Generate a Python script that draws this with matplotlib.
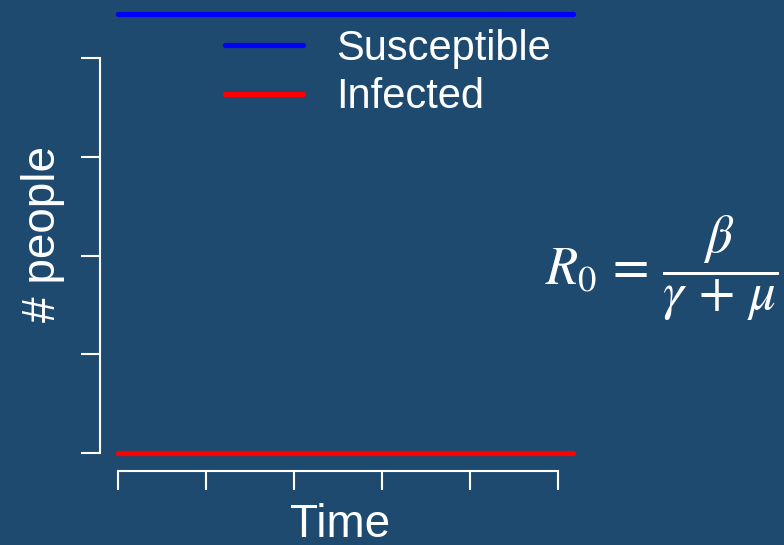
import matplotlib
matplotlib.use("Agg")
import matplotlib.pyplot as plt
import numpy as np

# Model state at time zero, held flat over the simulated horizon
time = [0, 51.7]
susceptible = [889, 889]
infected = [0, 0]
x_ticks = [0, 10, 20, 30, 40, 50]
y_ticks = [0, 200, 400, 600, 800]
series_labels = ["Susceptible", "Infected"]
series_colors = ["#0000FF", "#FF0000"]

bg = "#1E4A70"
W, H = 784, 545
fig = plt.figure(figsize=(W / 100, H / 100), dpi=100, facecolor=bg)
plt.rcParams["font.family"] = ["Liberation Sans", "DejaVu Sans"]
plt.rcParams["mathtext.fontset"] = "stix"

# plot region (R-style, 4% padding around the data range)
x0, x1 = min(time), max(time)
y0, y1 = 0, max(susceptible)
xpad, ypad = 0.04 * (x1 - x0), 0.04 * (y1 - y0)
px_per_x = 8.8
px_per_y = 0.49375
left_px = 100
width_px = (x1 - x0 + 2 * xpad) * px_per_x
height_px = (y1 - y0 + 2 * ypad) * px_per_y
bottom_px = 453 + ypad * px_per_y
ax = fig.add_axes([left_px / W, (H - bottom_px) / H, width_px / W, height_px / H])
ax.set_facecolor(bg)
ax.set_xlim(x0 - xpad, x1 + xpad)
ax.set_ylim(y0 - ypad, y1 + ypad)

lw = 3.8
ax.plot(time, susceptible, color=series_colors[0], lw=lw, solid_capstyle="round",
        label=series_labels[0], clip_on=False)
ax.plot(time, infected, color=series_colors[1], lw=lw, solid_capstyle="round",
        label=series_labels[1], clip_on=False)

for side in ("top", "right"):
    ax.spines[side].set_visible(False)
for side in ("left", "bottom"):
    ax.spines[side].set_color("white")
    ax.spines[side].set_linewidth(1.5)
ax.spines["left"].set_bounds(min(y_ticks), max(y_ticks))
ax.spines["bottom"].set_bounds(min(x_ticks), max(x_ticks))
ax.set_xticks(x_ticks)
ax.set_yticks(y_ticks)
ax.tick_params(axis="both", colors="white", length=14, width=1.5, direction="out",
               labelbottom=False, labelleft=False)

label_fs = 33
ax.set_xlabel("Time", color="white", fontsize=label_fs)
ax.xaxis.set_label_coords((340 - left_px) / width_px, -(503 - bottom_px) / height_px)
ax.set_ylabel("# people", color="white", fontsize=label_fs)
ax.yaxis.set_label_coords(-0.072, 0.5)

leg_fs = 30
leg = ax.legend(loc="upper left",
                bbox_to_anchor=((225 - left_px) / width_px, 1 - (29 - (bottom_px - height_px)) / height_px),
                frameon=False, fontsize=leg_fs, handlelength=1.87, handletextpad=0.8,
                labelspacing=0.2, borderaxespad=0, borderpad=0)
for t in leg.get_texts():
    t.set_color("white")
for h in leg.legend_handles:
    h.set_linewidth(lw)

fig.text(545 / W, (H - 268) / H, r"$R_0\,=\,\dfrac{\beta}{\gamma\,+\,\mu}$",
         color="white", fontsize=38, ha="left", va="center")

fig.savefig("out.png", dpi=100, facecolor=bg)
